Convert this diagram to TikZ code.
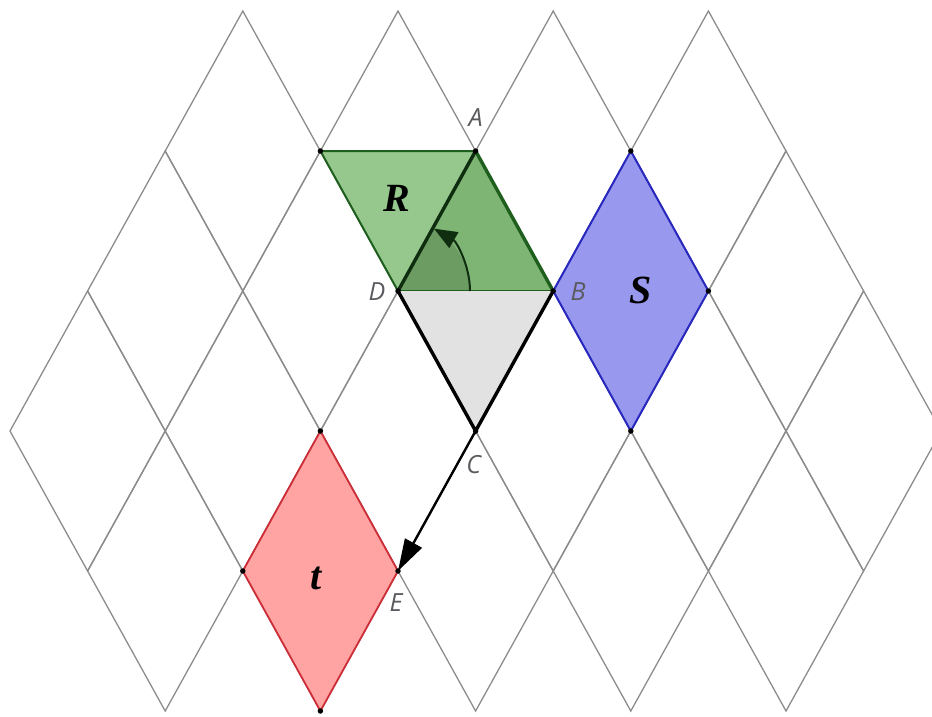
\documentclass[tikz,border=0pt]{standalone}
\usepackage{fontspec}
\setmainfont{Liberation Serif}
\newfontfamily\lblfont{Open Sans}
\usetikzlibrary{arrows.meta,calc}
\definecolor{gridc}{RGB}{140,140,140}
\definecolor{Rlight}{RGB}{150,199,141}
\definecolor{Rdark}{RGB}{126,180,116}
\definecolor{sectc}{RGB}{108,156,98}
\definecolor{Redge}{RGB}{30,95,30}
\definecolor{Rdeep}{RGB}{15,45,15}
\definecolor{Sfill}{RGB}{152,152,238}
\definecolor{Sedge}{RGB}{40,40,190}
\definecolor{Tfill}{RGB}{255,163,163}
\definecolor{Tedge}{RGB}{205,45,55}
\definecolor{triC}{RGB}{226,226,226}
\definecolor{lblc}{RGB}{90,90,95}
\newcommand\gdiam[2]{\draw[gridline] ({10+77.6*#1},{11+140*#2}) -- ++(-77.6,140) -- ++(77.6,140) -- ++(77.6,-140) -- cycle;}
\newcommand\lp[3]{\coordinate (#1) at ({10+77.6*#2},{11+140*#3});}
\begin{document}
\begin{tikzpicture}[x=1pt,y=-1pt,
  gridline/.style={draw=gridc,line width=1.3pt},
  ptdot/.style={circle,fill=black,inner sep=0pt,minimum size=5.5pt},
  ptlabel/.style={font=\lblfont\itshape\fontsize{25}{25}\selectfont,text=lblc,inner sep=0pt},
  biglabel/.style={font=\bfseries\itshape\fontsize{40}{40}\selectfont,inner sep=0pt}]
\useasboundingbox (0,0) rectangle (932,716);
% grid of rhombi
\foreach \u in {3,5,7,9} {\gdiam{\u}{0}}
\foreach \u in {2,4,6,8,10} {\gdiam{\u}{1}}
\foreach \u in {1,3,5,7,9,11} {\gdiam{\u}{2}}
\foreach \u in {2,4,6,8,10} {\gdiam{\u}{3}}
% lattice points used
\lp{Rtl}{4}{1}
\lp{A}{6}{1}
\lp{D}{5}{2}
\lp{B}{7}{2}
\lp{C}{6}{3}
\lp{E}{5}{4}
\lp{St}{8}{1}
\lp{Sr}{9}{2}
\lp{Sb}{8}{3}
\lp{Tt}{4}{3}
\lp{Tl}{3}{4}
\lp{Tb}{4}{5}
% R
\fill[Rlight] (Rtl) -- (A) -- (B) -- (D) -- cycle;
\fill[Rdark] (A) -- (B) -- (D) -- cycle;
\fill[sectc] (D) -- ($(D)+(72,0)$) arc[start angle=0,end angle=-60,radius=72] -- cycle;
\draw[Redge,line width=2pt] (D) -- (Rtl) -- (A);
\draw[Redge,line width=2.4pt] (D) -- (B);
% gray triangle
\fill[triC] (D) -- (B) -- (C) -- cycle;
\draw[black,line width=3.4pt] (D) -- (C) -- (B);
\draw[Redge,line width=3.4pt] (A) -- (B);
\draw[Rdeep,line width=3.4pt] (D) -- (A);
% angle arrow
\draw[Rdeep,line width=2pt,-{Triangle[length=23pt,width=18pt]}] ($(D)+(72,0)$) arc[start angle=0,end angle=-60,radius=72];
% S
\filldraw[fill=Sfill,draw=Sedge,line width=2pt] (St) -- (Sr) -- (Sb) -- (B) -- cycle;
% t
\filldraw[fill=Tfill,draw=Tedge,line width=1.8pt] (Tt) -- (E) -- (Tb) -- (Tl) -- cycle;
% translation vector
\draw[black,line width=2.4pt,-{Triangle[length=32pt,width=19pt]}] (C) -- (E);
% dots
\foreach \p in {Rtl,A,D,B,C,E,St,Sr,Sb,Tt,Tl,Tb} {\node[ptdot] at (\p) {};}
% labels
\node[ptlabel] (lA) at ($(A)+(0,-33)$) {A};
\node[ptlabel] (lD) at ($(D)+(-21,1)$) {D};
\node[ptlabel] (lB) at ($(B)+(25,1)$) {B};
\node[ptlabel] (lC) at ($(C)+(-2,34)$) {C};
\node[ptlabel] (lE) at ($(E)+(-2,32)$) {E};
\node[biglabel] (lR) at (397,198) {R};
\node[biglabel] (lS) at (641,290) {S};
\node[biglabel] (lt) at (316,578) {t};
\end{tikzpicture}
\end{document}
